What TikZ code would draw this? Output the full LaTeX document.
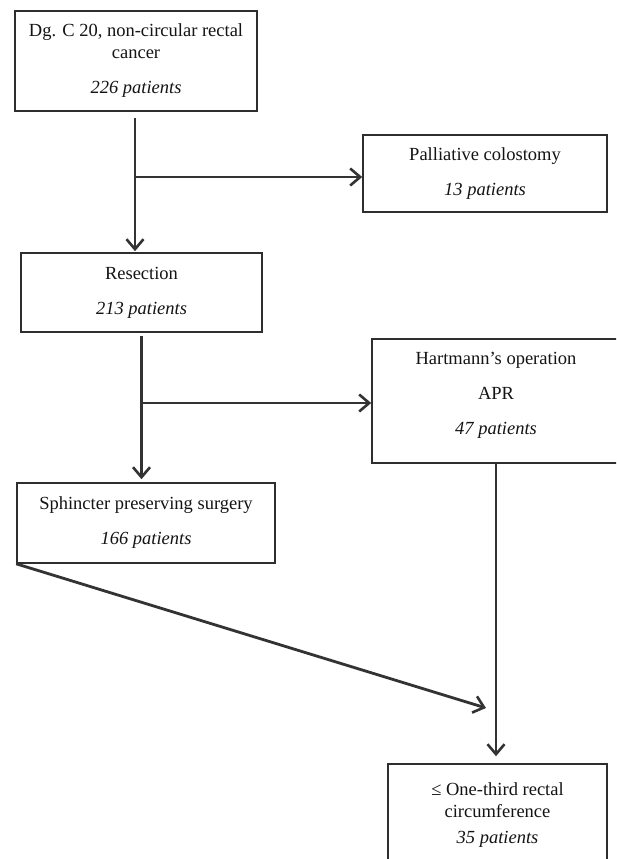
\documentclass[tikz,border=0pt]{standalone}
\usepackage{fontspec}
\setmainfont{Liberation Serif}
\usetikzlibrary{arrows.meta}
\begin{document}
\begin{tikzpicture}[x=1pt,y=-1pt,
  box/.style={draw=black!82, line width=1.6pt, align=center, inner sep=0pt,
    font=\fontsize{18.5}{22}\selectfont, text=black!92},
  arr/.style={draw=black!80, line width=2.8pt,
    -{Straight Barb[length=10pt,width=17pt,line width=2.6pt]}}]
\useasboundingbox (0,0) rectangle (616,859);
\clip (0,0) rectangle (616,859);
\fill[white] (0,0) rectangle (616,859);

\node[box, minimum width=242pt, minimum height=100pt] (dg) at (136,61)
  {Dg. C 20, non-circular rectal\\cancer\\[13pt]\textit{226 patients}};
\node[box, minimum width=244pt, minimum height=77pt] (pal) at (485,173.5)
  {Palliative colostomy\\[13pt]\textit{13 patients}};
\node[box, minimum width=241pt, minimum height=79pt] (res) at (141.5,292.5)
  {Resection\\[13pt]\textit{213 patients}};
\node[box, minimum width=248pt, minimum height=124pt] (hart) at (496,401)
  {Hartmann’s operation\\[13pt]APR\\[13pt]\textit{47 patients}\rule[-16pt]{0pt}{0pt}};
\node[box, minimum width=258pt, minimum height=80pt] (sph) at (146,523)
  {Sphincter preserving surgery\\[13pt]\textit{166 patients}};
\node[box, minimum width=219pt, minimum height=102pt] (bot) at (497.5,815)
  {≤ One-third rectal\\circumference\\[4pt]\textit{35 patients}};

% connectors
\coordinate (j1) at (135,177);
\coordinate (j2) at (142,403);
\coordinate (d1) at (486,708);

\draw[arr] ([xshift=-1pt,yshift=-6pt]dg.south) -- ([xshift=-1pt,yshift=1pt]dg.south |- res.north);
\draw[arr] (j1) -- (j1 -| pal.west);
\draw[arr] ([yshift=-3pt]res.south) -- ([yshift=3pt]res.south |- sph.north);
\draw[arr] (j2) -- (j2 -| hart.west);
\draw[arr] (sph.south west) -- (d1);
\draw[arr] (hart.south) -- ([yshift=7pt]hart.south |- bot.north);
\end{tikzpicture}
\end{document}
